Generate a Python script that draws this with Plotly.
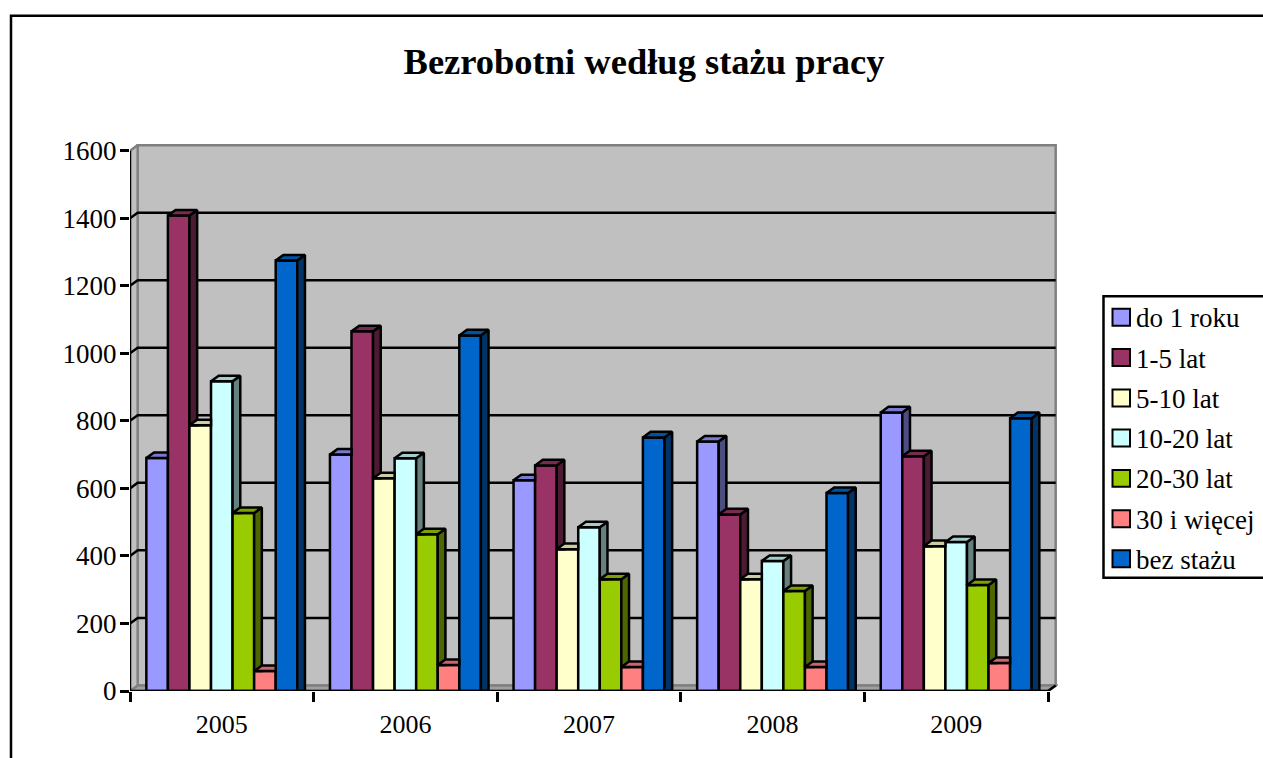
import plotly.graph_objects as go

YEARS = ['2005', '2006', '2007', '2008', '2009']
TITLE = 'Bezrobotni według stażu pracy'
FONT = 'Liberation Serif'

# series
do_1_roku = [690, 700, 624, 739, 825]
lat_1_5 = [1408, 1065, 668, 523, 695]
lat_5_10 = [787, 630, 420, 331, 429]
lat_10_20 = [917, 689, 485, 385, 441]
lat_20_30 = [527, 464, 331, 296, 314]
lat_30_plus = [59, 77, 71, 71, 83]
bez_stazu = [1275, 1053, 751, 586, 808]

SERIES = [
    ('do 1 roku', do_1_roku, '#9999FF', '#4D4D80', '#7A7ACC'),
    ('1-5 lat', lat_1_5, '#993366', '#4D1A33', '#7A2952'),
    ('5-10 lat', lat_5_10, '#FFFFCC', '#808066', '#CCCCA3'),
    ('10-20 lat', lat_10_20, '#CCFFFF', '#668080', '#A3CCCC'),
    ('20-30 lat', lat_20_30, '#99CC00', '#4D6600', '#7AA300'),
    ('30 i więcej', lat_30_plus, '#FF8080', '#804040', '#CC6666'),
    ('bez stażu', bez_stazu, '#0066CC', '#003366', '#0052A3'),
]

Y_TICKS = [0, 200, 400, 600, 800, 1000, 1200, 1400, 1600]
BOUNDARIES = [-0.5, 0.5, 1.5, 2.5, 3.5, 4.5]

# fake 3d depth, in axis units
DX = 0.0419
DY = 16.5
BARGAP = 0.178
BAR_W = (1 - BARGAP) / len(SERIES)
EDGE = 2.5

# pixel helpers, for things placed outside the plot area
L, R, T, B = 130, 205, 142.5, 66.5
W, H = 1263, 758
PX_PER_X = 183.6
PX_PER_Y = 0.3383

# legend rows, pixel centre of each row
LEGEND_ROWS = [317, 357.5, 398, 438, 478.5, 519, 559]


def px_x(p):
    return (p - L) / (W - L - R)


def px_y(p):
    return 1 - (p - T) / (H - T - B)


def poly_path(points):
    return 'M' + ' L'.join(f'{x},{y}' for x, y in points) + ' Z'


fig = go.Figure()

# walls and floor go below the traces
x0, x1 = BOUNDARIES[0], BOUNDARIES[-1]
top = Y_TICKS[-1]
wall_line = dict(color='#808080', width=EDGE)
fig.add_shape(type='path', layer='below', xref='x', yref='y', fillcolor='#C0C0C0', line=dict(width=0),
              path=poly_path([(x0, 0), (x0, top), (x0 + DX, top + DY), (x0 + DX, DY)]))
fig.add_shape(type='path', layer='below', xref='x', yref='y', fillcolor='#C0C0C0', line=wall_line,
              path=poly_path([(x0 + DX, DY), (x0 + DX, top + DY), (x1 + DX, top + DY), (x1 + DX, DY)]))
fig.add_shape(type='path', layer='below', xref='x', yref='y', fillcolor='#A0A0A0', line=wall_line,
              path=poly_path([(x0, 0), (x0 + DX, DY), (x1 + DX, DY), (x1, 0)]))
fig.add_shape(type='line', layer='below', xref='x', yref='y', line=wall_line,
              x0=x0, y0=top, x1=x0 + DX, y1=top + DY)

# gridlines run along the left wall and then the back wall
for v in Y_TICKS[1:-1]:
    fig.add_shape(type='path', layer='below', xref='x', yref='y', line=dict(color='black', width=EDGE),
                  path=f'M{x0},{v} L{x0 + DX},{v + DY} L{x1 + DX},{v + DY}')
fig.add_shape(type='line', layer='below', xref='x', yref='y', line=dict(color='black', width=EDGE),
              x0=x1, y0=0, x1=x1 + DX, y1=DY)

# front faces
for j, (name, values, color, side, lid) in enumerate(SERIES):
    fig.add_trace(go.Bar(x=list(range(len(YEARS))), y=values, name=name, width=BAR_W,
                         offset=-(1 - BARGAP) / 2 + j * BAR_W, showlegend=False,
                         marker=dict(color=color, line=dict(color='black', width=EDGE))))

# side and top faces, left to right so the next bar hides what it should
for i in range(len(YEARS)):
    for j, (name, values, color, side, lid) in enumerate(SERIES):
        left = i - (1 - BARGAP) / 2 + j * BAR_W
        right = left + BAR_W
        v = values[i]
        nxt = SERIES[j + 1][1][i] if j + 1 < len(SERIES) else 0
        if nxt < v:
            fig.add_trace(go.Scatter(x=[right, right, right + DX, right + DX, right],
                                     y=[nxt, v, v + DY, nxt, nxt],
                                     mode='lines', fill='toself', fillcolor=side, showlegend=False,
                                     line=dict(color='black', width=EDGE), hoverinfo='skip'))
            xs = [left, right, right + DX, left + DX, left]
            ys = [v, v, v + DY, v + DY, v]
        else:
            xs = [left, right, right, left + DX, left]
            ys = [v, v, v + DY, v + DY, v]
        fig.add_trace(go.Scatter(x=xs, y=ys, mode='lines', fill='toself', fillcolor=lid, showlegend=False,
                                 line=dict(color='black', width=EDGE), hoverinfo='skip'))

# axis lines
fig.add_trace(go.Scatter(x=[x0, x0, x1], y=[top, 0, 0], mode='lines', showlegend=False, cliponaxis=False,
                         line=dict(color='black', width=EDGE), hoverinfo='skip'))

# outer chart frame and legend frame
frame = dict(color='black', width=EDGE)
fig.add_shape(type='rect', xref='paper', yref='paper', layer='above',
              x0=px_x(11), x1=px_x(1300), y0=px_y(800), y1=px_y(15),
              line=frame, fillcolor='rgba(0,0,0,0)')
fig.add_shape(type='rect', xref='paper', yref='paper', layer='above',
              x0=px_x(1103.5), x1=px_x(1300), y0=px_y(578), y1=px_y(296),
              line=frame, fillcolor='rgba(0,0,0,0)')

# legend by hand, plotly's own swatches and gaps do not get this close
for (name, values, color, side, lid), row in zip(SERIES, LEGEND_ROWS):
    fig.add_shape(type='rect', xref='paper', yref='paper', layer='above',
                  x0=px_x(1112.5), x1=px_x(1130), y0=px_y(row + 8.5), y1=px_y(row - 8.5),
                  line=dict(color='black', width=2), fillcolor=color)
    fig.add_annotation(text=name, xref='paper', yref='paper', x=px_x(1136), y=px_y(row + 1), xanchor='left',
                       yanchor='middle', showarrow=False, borderpad=0, borderwidth=0,
                       font=dict(family=FONT, size=27, color='black'))

fig.update_xaxes(range=[x0, x0 + (W - L - R) / PX_PER_X], tickmode='array', tickvals=list(range(len(YEARS))),
                 ticktext=YEARS, ticks='', ticklabelstandoff=15, showgrid=False, zeroline=False, showline=False,
                 tickfont=dict(family=FONT, size=26, color='black'),
                 minor=dict(tickmode='array', tickvals=BOUNDARIES, ticks='outside', ticklen=10,
                            tickwidth=EDGE, tickcolor='black', showgrid=False))
fig.update_yaxes(range=[0, (H - T - B) / PX_PER_Y], tickmode='array', tickvals=Y_TICKS, ticks='outside',
                 ticklen=9, tickwidth=EDGE, tickcolor='black', showgrid=False, zeroline=False, showline=False,
                 ticklabelstandoff=-2, tickfont=dict(family=FONT, size=27, color='black'))

fig.update_layout(
    width=W,
    height=H,
    autosize=False,
    showlegend=False,
    margin=dict(l=L, r=R, t=T, b=B, pad=0, autoexpand=False),
    paper_bgcolor='white',
    plot_bgcolor='white',
    barmode='overlay',
    title=dict(text=f'<b>{TITLE}</b>', x=px_x(644), xref='paper', xanchor='center', y=1 - 61.5 / H,
               yref='container', yanchor='middle', font=dict(family=FONT, size=36.5, color='black')),
)

fig.write_html('out.html', config=dict(displayModeBar=False), post_script="document.body.style.margin='0';")
